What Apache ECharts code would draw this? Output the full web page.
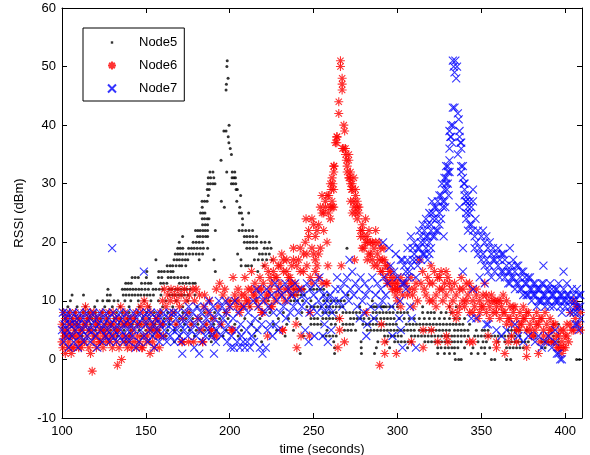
<!DOCTYPE html>
<html>
<head>
<meta charset="utf-8">
<script src="https://cdn.jsdelivr.net/npm/echarts@6/dist/echarts.min.js"></script>
<style>
  html, body { margin: 0; background: #fff; }
  #chart { width: 590px; height: 455px; }
</style>
</head>
<body>
<div id="chart"></div>
<script>
// axis ranges and ticks
var xMin = 100, xMax = 410, xStep = 50;
var yMin = -10, yMax = 60, yStep = 10;
var seriesNames = ['Node5', 'Node6', 'Node7'];

// Node5 read row by row: [rssi, time, time, ...]
var node5Rows = [
  [51, 198.5], [50, 198.3], [48, 199], [47, 198], [46, 197.8],
  [40, 199.6], [39, 196.5, 197.8], [38, 199.1], [37, 199.5], [36, 200.3], [35, 201], [34, 194.8],
  [32, 188.2, 190, 198.2, 201.5, 203],
  [31, 187.2, 188.6, 190.5, 201.4, 202.5, 203.4],
  [30, 187, 188.5, 190, 191.2, 201, 202.2, 203.6],
  [29, 186.6, 187.8, 203.8, 204.5],
  [28, 187.2, 206.5],
  [27, 183.5, 185, 186.5, 195, 204.2],
  [26, 183.6, 196.8, 206],
  [25, 182.6, 184, 185.2, 205.7, 207, 211.3],
  [24, 183.6, 185, 186.6, 187.6, 207.6],
  [23, 183.8, 185.4, 186.8, 207.7],
  [22, 179.6, 181, 182.4, 184, 185.4, 186.8, 191.4, 205.6, 207.5, 209.5, 211.5, 213.6],
  [21, 171.9, 180.8, 182.3, 184, 185.6, 186.8, 208.7, 210.2, 212, 213.8, 216],
  [20, 169.9, 178.2, 180, 181.8, 183.8, 208.7, 210.5, 212.2, 214, 216, 218.8, 221, 223.6],
  [19, 169, 170.5, 172, 175.5, 177.2, 178.8, 180.6, 182.5, 184.3, 186.8, 210.2, 212, 214, 216, 220.6, 222.5, 224.6, 269.9],
  [18, 167.5, 169, 170.5, 172, 174, 176, 178, 180, 181.8, 183.8, 204.7, 217.7, 219.5, 221.5, 223.6],
  [17, 156, 166.8, 168.5, 170, 171.8, 173.5, 175, 181.8, 190.6, 206.7, 214.7, 217, 219.5, 222, 225.2],
  [16, 162.7, 164.5, 166, 168, 170, 171.4, 173.8, 206.8, 209.5, 211, 213, 220.2],
  [15, 150.6, 157.7, 159.3, 161, 163, 164.8, 166.2, 191.4, 216.7],
  [14, 141.8, 143.6, 145.5, 150.3, 157.5, 159.5, 163.3, 165, 167, 169, 171, 173, 175],
  [13, 138, 139.6, 141.3, 147.4, 149.5, 151.5, 153, 158.8, 160.5, 162.5, 170, 172, 174, 176, 178, 179.4],
  [12, 127.4, 136, 137.5, 139, 140.6, 142.3, 144, 145.8, 147.5, 149.5, 151.5, 154.3, 156, 158, 160, 163.8, 165.5, 167.5, 169.2, 171, 172.8, 174.5, 176.3, 238.4, 240.2, 242, 244.4, 248, 250, 252, 254, 256],
  [11, 106, 112.8, 127, 128.8, 136.5, 138.2, 140, 141.8, 143.5, 145.3, 147, 149, 150.8, 152.5, 154.5, 159, 164, 165.8, 167.6, 169.4, 171.2, 173, 175, 179.3, 236.4, 238.4, 240.4, 242.4, 244.4, 256, 258.5, 270.5],
  [10, 105, 121, 124.3, 127, 128.2, 131, 133.4, 137.5, 141, 145.5, 149, 153, 157.5, 162, 168, 175, 188, 200.5, 215.7, 223, 236.4, 238.4, 240.4, 243.4, 248.4, 256, 258, 260.3, 262.3, 264.3, 266.3, 268.3, 285],
  [9, 103.5, 109, 114, 119.5, 125.5, 130, 134.5, 140, 146, 152, 160, 166, 172, 180.5, 212, 246, 248.4, 250.4, 252.4, 254.4, 257.5, 259.5, 261.5, 263.5, 265.5, 267.5, 277.5, 284.4, 286, 287.4, 290.2, 291.4, 292.2, 293.4, 295.3, 297.3, 300, 315, 331, 335],
  [8, 101, 104, 108, 112.5, 116, 120, 124, 128, 132.5, 136, 140, 145, 150.5, 155, 159, 163, 167, 172, 176, 185, 191, 197, 224, 232, 243, 247, 255.5, 257.5, 259.5, 261.5, 263.5, 267.5, 269.5, 271.5, 273.5, 275.5, 277.5, 281, 285.4, 287.4, 289.4, 291.4, 293.4, 295.4, 297.4, 300, 302, 304, 306, 315, 318, 320, 322, 326, 329, 332],
  [7, 102, 106, 110, 115, 118, 123, 127, 131, 135, 139, 143.5, 148, 152, 156, 161, 165, 170, 174, 178, 183, 189, 194, 199, 209, 218, 229, 235, 240, 248.4, 250.4, 252.4, 255.5, 257.5, 259.5, 261.5, 263.5, 265.5, 272, 274, 276, 278, 280, 283, 285.5, 287.5, 290, 292, 294, 296, 298, 301, 304, 307, 310, 313, 316, 319, 322, 325, 328, 331, 334, 337, 340],
  [6, 100.5, 104.5, 109, 113, 117, 121.5, 126, 130, 134, 138, 142, 147, 151, 155.5, 160, 164, 168, 173, 177, 181, 186, 190.5, 195, 203, 213, 226, 234, 242, 248.4, 250.4, 252.4, 254.4, 260.5, 263, 267.5, 269.5, 271.5, 273.4, 279.4, 281.4, 283.4, 285.4, 287.4, 289.4, 291.4, 293.4, 295.4, 297.4, 299.3, 305.3, 307.3, 309.3, 311.3, 313.3, 315.3, 317.3, 319.3, 321.3, 323.3, 325.3, 327.3, 329.3, 331.3, 333.2, 335, 337, 339, 343, 393, 396],
  [5, 103, 107.5, 111, 116, 120, 125, 129, 133, 137, 141, 146, 150, 154, 158, 163, 167, 171, 176, 180, 185, 192, 198, 207, 216, 228, 238, 258, 268.4, 270.4, 272.4, 275, 282, 284, 286, 288, 290, 292, 294, 296, 298, 300, 302, 304, 306, 308, 310, 313, 315, 317, 319, 321, 323, 325, 327, 329, 331, 334, 336, 338, 340, 342, 347, 350.5, 352, 354, 366, 368, 370, 373, 377],
  [4, 105, 112, 119, 126, 133, 140, 147, 154, 162, 170, 179, 188, 196, 205, 215, 233, 244, 255.5, 257.5, 259.5, 261.5, 263.5, 292.3, 294.3, 296.3, 298.3, 300.3, 302.3, 308.3, 310.3, 312.3, 314.3, 316.3, 318.3, 320.3, 322.3, 324.3, 326.3, 328.3, 330.3, 332.3, 334, 336, 338, 340, 342.2, 346, 348, 350, 352, 354, 356, 358, 360, 362, 364, 366, 368, 370, 373, 382, 393],
  [3, 110, 123, 138, 152, 167, 189, 219, 262, 278.3, 288.3, 293.4, 298.3, 300.3, 302.3, 304.3, 306.3, 308.3, 316.3, 318.3, 320.3, 322.3, 324.3, 326.3, 328.3, 330.3, 332.3, 334, 336, 338, 341, 348, 351, 353, 360, 364, 368, 370, 372, 374, 376, 378, 386, 388, 390, 392, 396],
  [2, 262.5, 278.4, 287.4, 295.3, 306, 324, 326, 328.4, 330.4, 332.4, 334, 336, 340, 345, 350, 352, 355, 365, 367, 369, 371, 373, 375, 386, 388],
  [1, 242, 262.5, 278.5, 286.3, 324, 328, 331, 334, 344, 348, 352],
  [0, 334.5, 336.5, 338, 356, 358, 365, 367.5, 406.8, 408.5]
];

// Node6: [time, rssi]
var node6 = [
  [100,6],[100.5,2],[101,8],[101.5,4],[102,1],[102,7],[103,5],[103.5,2],[104,3],[104.5,8],[105,6],[105.5,1],[106,4],[106.5,7],[107,2],[107.5,5],[108,8],[109,3],[109.5,6],[110,4],
  [111,7],[111.5,2],[112,5],[113,8],[113.5,3],[114,9],[114.5,6],[115,4],[116,2],[116.5,7],[117,1],[117.5,5],[118,-2],[118.5,3],[119,8],[120,6],[120.5,2],[121,4],[122,7],[122.5,3],
  [123,5],[124,8],[124.5,2],[125,6],[126,4],[126.5,7],[127,5],[128,8],[128.5,3],[129,6],[130,2],[130.5,8],[131,4],[132,7],[132.5,3],[133,-1],[133.5,5],[134,2],[135,9],[135.5,0],
  [136,6],[137,3],[137.5,8],[138,4],[139,2],[139.5,6],[140,3],[141,7],[141.5,2],[142,5],[143,3],[144,8],[144.5,2],[145,6],[146,3],[147,9],[147.5,2],[148,8],[148.5,4],[149,10],
  [150,7],[150.5,3],[151,9],[152,5],[152.5,1],[153,8],[154,3],[154.5,6],[155,2],[156,7],[156.5,4],[157,5],[158,2],[158.5,8],[159,6],[160,10],[160.5,4],[161,12],[162,9],[163,11],
  [164,7],[164.5,10],[165,12],[166,8],[167,11],[168,6],[168.5,10],[169,12],[170,9],[171,11],[171.5,3],[172,7],[173,12],[174,10],[175,8],[175.5,3],[176,11],[177,6],[178,12],[178.5,3],
  [100,3],[101,5],[102,4],[103,7],[104,6],[105,4],[106,2],[107,6],[108,4],[109,7],[110,2],[111,5],[112,3],[113,6],[115,7],[116,5],[117,8],[119,4],[120,7],[121,6],
  [123,3],[124,5],[125,4],[127,3],[128,6],[129,4],[131,6],[132,5],[134,7],[136,4],[137,6],[138,7],[140,6],[141,4],[143,7],[145,4],[146,6],[148,2],[149,6],[151,4],[153,6],[155,5],[157,7],[158,4],[160,6],
  [179,10],[180,12],[181,7],[182,11],[183,5],[184,3],[184.5,9],[185,11],[186,6],[187,8],[188,10],[189,5],[190,7],[191,4],[192,12],[193,9],[194,13],[195,6],[196,11],[197,12],
  [198,8],[199,10],[200,9],[201,5],[202,14],[203,11],[204,9],[205,10],[206,8],[207,11],[208,9],[209,14],[210,10],[211,12],[212,9],[213,15],[214,11],[215,13],[216,10],[217,12],
  [218,14],[219,8],[220,13],[221,16],[222,11],[222.5,4],[223,15],[224,12],[225,9],[226,17],[227,14],[228,11],[229,16],[230,13],[231,18],[231.5,5],[232,15],[233,12],[234,17],[235,14],
  [236,11],[237,16],[238,19],[239,13],[239.5,6],[240,2],[241,17],[242,15],[242.5,4],[243,12],[244,18],[245,20],[246,16],[247,22],[247.5,4],[248,8],[248,14],[249,24],[250,18],[251,21],
  [252,16],[253,23],[254,19],[255,25],[255,13],[256,22],[257,27],[258,13],[258,20],[259,28],[260,24],[260,30],[261,26],[262,29],[262,33],[263,37],[264,38],[265,42],[265,44],[266,51],
  [266,50],[267,48],[267,47],[267,46],[268,40],[268.5,39],[269,36],[269.5,34],[270,33],[271,35],[271.5,31],[272,32],[272.5,29],[273,30],[274,27],[275,28],[276,26],[276,24],[277,25],[278,22],
  [279,23],[279,19],[280,21],[281,24],[282,20],[282,17],[283,22],[284,18],[285,20],[286,16],[287,22],[288,18],[289,20],[290,15],[291,17],[292,19],[293,14],[294,16],[295,13],[296,15],
  [297,12],[298,14],[299,11],[300,13],[301,12],[302,14],[303,11],[305,13],[307,12],[309,11],[311,13],[313,17],[315,15],[316,12],[318,14],[319,10],[320,16],[321,13],[322,15],[323,11],
  [324,14],[325,12],[326,15],[327,10],[328,13],[329,11],[330,14],[331,9],[332,12],[333,10],[334,13],[335,11],[336,8],[337,12],[338,14],[339,10],[340,9],[341,13],[342,11],[343,8],
  [344,12],[345,10],[346,9],[347,11],[348,7],[349,10],[350,9],[351,11],[352,13],[353,8],[354,10],[355,9],[356,11],[357,8],[358,10],[359,9],[360,10],[361,7],[362,9],[363,11],
  [364,8],[365,10],[366,7],[367,9],[368,6],[369,8],[370,9],[371,7],[372,5],[373,8],[374,6],[375,9],[376,7],[377,5],[378,8],[379,6],[380,4],[381,7],[382,5],[383,8],
  [384,6],[385,3],[386,7],[387,5],[388,8],[389,6],[390,4],[391,7],[392,5],[393,3],[394,6],[395,2],[396,4],[397,5],[398,3],[399,2],[400,4],[401,6],[402,3],[403,8],
  [404,5],[405,10],[406,7],[407,9],[408,6],[409,8],
  [300,10],[302,9],[304,13],[306,11],[308,14],[310,12],[312,10],[314,13],[317,11],[319,13],[321,10],[323,9],[325,14],[327,12],[329,15],[331,13],[333,8],[335,7],[337,9],[339,12],
  [341,10],[343,13],[345,8],[347,12],[349,8],[351,9],[353,11],[355,7],[357,10],[359,8],[361,10],[363,8],[365,6],[367,7],[369,9],[371,5],[373,6],[375,7],[377,8],[379,5],
  [381,4],[383,6],[385,7],[387,4],[389,3],[391,5],[393,6],[395,4],[397,2],[399,5],[401,4],[403,6],[405,5],[407,9],[409,5],
  [257.5,13],[258.5,16],[266.5,16],[265.5,7],[265.5,5],[268.4,3],[264.5,2],[274.4,17],[281.4,8],[290.4,6],[292.4,3],[292.4,1],[299.3,1],[289.4,-1],[308.3,3],[309.3,9],[315.3,5],[315.3,2],[320.2,5],[329.2,4],
  [324,3],[330,3],[343,3],[345,3],[354,4],[359,3],[359,2],[364,1],[371,3],[377,2],[377,0.5],[384,1],[392,3],[400,2],[396,2],[398,1],[366,3],[368,4],
  [224.6,9],[219.6,8],[231.6,5],[201.7,5],[183.8,3],[171.7,3],[189,5],[192,4],
  [262.2,33],[262,32],[261,31],[260.5,29],[261.5,30],[271,31],[272,30],[273,29],[274,31],[275,29],[254,26],[255,28],[256,25],[257,26],[258,28],[259,25],[260,26],[261,27],[262,26],[272,27],
  [273,25],[274,26],[275,25],[276,27],[277,26],[263.8,38],[263.8,37],[268,36],[269,35],[270,32],[271,34],[267.2,36],
  [245.5,24],[247,21],[249,19],[250,23],[251,17],[252,22],[253,18],[246,18],[244,15],[242,19],[240,16],[238,17],[236,14],[234,15],[232,17],[230,16],[228,14],[226,15],[224,14],[249,13],
  [251,15],[253,14],[238,12],[236,13],
  [278,21],[279,22],[280,19],[281,20],[282,21],[283,18],[284,20],[285,17],[286,19],[287,20],[288,16],[289,17],[290,19],[291,15],[292,17],[293,16],[294,13],[295,15],[296,14],[297,13],
  [298,12],[299,13],[300,12],
  [203,10],[205,12],[207,9],[209,11],[211,10],[213,12],[215,11],[217,9],[219,12],[221,10],[223,11],[225,13],[227,10],[229,12],[231,11],[233,10],[235,12],[237,13],[239,11],[241,12]
];

// Node7: [time, rssi]
var node7 = [
  [100,5],[100.5,8],[101,3],[101.5,6],[102,7],[102.5,4],[103,8],[103.5,5],[104,2],[104.5,6],[105,7],[106,4],[106.5,8],[107,3],[107.5,6],[108,5],[109,7],[109.5,2],[110,6],[110.5,8],
  [111,4],[112,5],[112.5,7],[113,3],[114,6],[114.5,8],[115,4],[116,5],[116.5,7],[117,3],[118,6],[118.5,8],[119,5],[120,4],[120.5,7],[121,2],[122,6],[122.5,8],[123,5],[124,3],
  [124.5,7],[125,6],[126,4],[126.5,8],[127,5],[128,7],[128.5,3],[129,6],[129.9,19],[130,4],[130.5,8],[131,5],[132,7],[132.5,3],[133,6],[134,4],[134.5,8],[135,5],[136,7],[136.5,3],
  [137,6],[138,4],[138.5,8],[139,5],[140,3],[140.5,7],[141,6],[142,4],[142.5,8],[143,5],[144,2],[144.5,7],[145,6],[146,3],[146.5,8],[147,5],[148,7],[148.8,15],[149,4],[150,6],
  [150.5,8],[151,3],[152,7],[152.5,5],[153,8],[154,4],[154.5,6],[155,2],[156,7],[156.5,5],[157,8],[158,3],[158.5,6],[159,7],[160,4],[160.5,8],[161,5],[162,6],[162.5,3],[163,7],
  [164,8],[164.5,4],[165,6],[166,5],[166.5,8],[167,3],[168,7],[168.5,5],[169,8],[170,4],[170.5,6],[171,3],[171.7,1],[172,7],[173,5],[173.5,8],[174,6],[175,4],[175.5,9],[176,7],
  [177,5],[178,8],[178.8,2],[179,6],[180,4],[180.5,9],[181,7],[181.8,1],[182,5],[183,8],[183.7,3],[184,6],[185,9],[185.5,4],[186,7],[187,5],[187.5,10],[188,8],[189,6],[189.5,4],
  [190,9],[190.6,1],[191,7],[191.7,3],[192,5],[193,8],[193.5,10],[194,6],[195,4],[195.5,9],[196,7],[197,5],[197.5,10],[198,8],[198.5,3],[199,6],[200,9],[200.6,2],[201,4],[202,7],
  [202.5,2],[203,10],[204,5],[204.5,3],[205,8],[206,2],[206.5,6],[207,4],[208,3],[208.5,9],[209,2],[210,5],[210.5,3],[211,8],[212,2],[212.5,6],[213,4],[214,10],[214.5,3],[215,7],
  [216,12],[216.5,5],[217,9],[218,2],[218.5,11],[219,6],[219.5,1],[220,10],[221,8],[221.5,2],[222,12],[222.5,5],[223,9],[224,6],[225,11],[225.5,4],[226,8],[227,13],[227.5,6],[228,10],
  [229,5],[229.5,12],[230,8],[231,11],[232,9],[233,13],[233.5,7],[234,10],[235,12],[236,8],[237,11],[238,9],[239,13],[240,10],[241,8],[242,12],[243,9],[244,11],[245,5],[245.5,10],
  [246,13],[247,3],[247.5,8],[248,12],[249,9],[250,11],[250.5,4],[251,13],[252,8],[253,10],[253.5,14],[254,12],[255,9],[255.5,4],[256,11],[256.5,6],[257,8],[258,10],[258.5,3],[259,9],
  [260,11],[260.5,5],[261,8],[262,10],[263,12],[264,14],[265,10],[266,12],[267,9],[268,13],[269,11],[270,14],[271,10],[271.4,17],[272,12],[273,15],[274,11],[275,13],[276,9],[277,12],
  [277.5,7],[278,14],[279,10],[280,8],[280.5,13],[281,11],[281.4,4],[282,6],[283,12],[284,9],[285,14],[286,7],[287,11],[288,13],[289,9],[290,12],[291,10],[291.4,20],[292,14],[293,11],
  [294,13],[295,19],[296,16],[296.5,9],[297,4],[298,15],[299,18],[300,14],[301,7],[301.5,10],[302,17],[302,5],[303,2],[303,13],[304,16],[305,12],[306,19],[307,15],[307.5,9],[308,21],
  [308.5,7],[309,17],[310,20],[311,2],[311,14],[312,19],[313,22],[314,17],[315,23],[316,20],[317,24],[318,21],[319,18],[320,23],[320.5,27],[321,25],[322,21],[323,26],[324,22],[325,28],
  [326,24],[326.5,30],[327,27],[327.5,21],[328,31],[328.5,26],[329,33],[329.5,29],[330,32],[330.5,28],[331,36],[331.5,38],[332,40],[332.5,37],[333,43],[333,51],[333.5,50],[334,49],[334.5,51],[335,48],
  [335.5,50],[336,42],[336.5,41],[336,35],[337,39],[337,26],[337.5,37],[338,36],[338,32],[339,31],[339,19],[339,15],[339.5,30],[340,28],[340.5,27],[341,25],[342,26],[343,25],[344,23],[344,7],
  [345,29],[345,22],[345,12],[346,21],[346.5,24],[347,20],[347,7],[348,22],[349,19],[349,14],[350,21],[351,18],[352,20],[352,13],[353,17],[353,6],[354,19],[354,6],[355,16],[356,18],
  [357,17],[358,15],[359,18],[359,5],[360,16],[361,17],[362,15],[362,4],[363,18],[364,14],[365,16],[365,5],[366,15],[367,19],[367,13],[368,16],[369,14],[370,15],[370,6],[371,13],
  [372,16],[372,4],[373,14],[374,12],[375,15],[375,3],[376,13],[377,11],[378,14],[378,4],[379,12],[380,10],[381,13],[382,11],[382,3],[383,9],[384,12],[384,4],[385,10],[386,13],
  [386,2],[387,16],[387,11],[388,9],[388,3],[389,12],[390,10],[390,4],[391,13],[392,11],[392,2],[393,9],[394,12],[394,5],[395,10],[395,1],[396,13],[397,11],[397,0],[398,8],
  [399,15],[399,12],[400,10],[401,13],[402,11],[403,9],[404,12],[405,8],[406,10],[406,6],[407,12],[408,9],[409,7],[409,11],
  [318,23],[319,25],[320,22],[321,24],[322,26],[323,24],[324,27],[325,25],[326,28],[327,26],[328,29],[328,27],[329,30],[329,31],[330,30],[330,33],[331,32],[331,34],[321,21],[323,22],
  [325,23],[314,21],[316,22],[317,21],[340,29],[341,27],[342,28],[343,27],[344,26],[345,27],[341,24],[343,23],[342,22],[337,38],[332,38],[331,39],[333,40],[334,43],[338,37],[338,33],
  [339,33],[340,30],
  [346,19],[348,18],[350,17],[351,22],[352,16],[353,21],[354,15],[355,20],[356,14],[357,19],[358,17],[360,19],[361,14],[362,18],[363,15],[364,17],[366,13],[367,15],[368,14],[369,17],
  [370,12],[371,16],[372,13],[373,12],[374,15],[375,11],[376,14],[377,13],[378,11],[379,14],[380,12],[381,11],[382,13],[383,12],[384,10],[385,12],[386,10],[387,13],[388,11],[389,10],
  [390,12],[391,9],[392,12],[393,11],[394,10],[395,12],[396,10],[397,9],[398,11],[399,10],[400,9],[401,11],[402,10],[403,8],[404,10],[405,11],[406,9],[407,8],[408,11],[409,9],
  [407,6],[408,5],[394,3],[396,1],[398,0],
  [303,17],[305,15],[306,17],[308,16],[309,19],[310,18],[311,17],[312,16],[313,19],[314,20],[315,18],[316,18],[317,19],[318,17],[319,20],[320,19],[304,13],[306,14]
];

var node5 = [];
node5Rows.forEach(function (row) {
  for (var i = 1; i < row.length; i++) {
    node5.push([row[i], row[0]]);
  }
});

var starPath = 'path://M5,0L5,10M0,5L10,5M1.5,1.5L8.5,8.5M8.5,1.5L1.5,8.5';
var crossPath = 'path://M0,0L10,10M10,0L0,10';
var dotPath = 'path://M0,0M10,10M3.5,3.5L6.5,3.5L6.5,6.5L3.5,6.5Z';
var font = 'Liberation Sans, Arial, Helvetica, sans-serif';

var chart = echarts.init(document.getElementById('chart'));

function axisBase(extra) {
  var a = {
    type: 'value',
    axisLine: { show: true, onZero: false, lineStyle: { color: '#000', width: 1 } },
    axisTick: { show: true, inside: true, length: 5, lineStyle: { color: '#000' } },
    splitLine: { show: false },
    axisLabel: { color: '#000', fontSize: 13, fontFamily: font }
  };
  for (var k in extra) a[k] = extra[k];
  return a;
}

var option = {
  animation: false,
  backgroundColor: '#fff',
  grid: { left: 62, right: 8, top: 8, bottom: 37, outerBoundsMode: 'none' },
  legend: {
    orient: 'vertical',
    left: 83,
    top: 28,
    padding: [8, 7, 6, 24],
    itemGap: 10,
    itemWidth: 44,
    itemHeight: 8,
    borderColor: '#000',
    borderWidth: 1,
    backgroundColor: '#fff',
    textStyle: { color: '#000', fontSize: 13, fontFamily: font },
    data: [
      { name: 'Node5', icon: dotPath },
      { name: 'Node6', icon: starPath },
      { name: 'Node7', icon: crossPath }
    ]
  },
  xAxis: [
    axisBase({
      min: xMin, max: xMax, interval: xStep, position: 'bottom',
      name: 'time (seconds)', nameLocation: 'middle', nameGap: 13,
      nameTextStyle: { color: '#000', fontSize: 13, fontFamily: font },
      axisLabel: { color: '#000', fontSize: 13, fontFamily: font, margin: 7, showMaxLabel: false }
    }),
    axisBase({ min: xMin, max: xMax, interval: xStep, position: 'top', axisLabel: { show: false } })
  ],
  yAxis: [
    axisBase({
      min: yMin, max: yMax, interval: yStep, position: 'left',
      name: 'RSSI (dBm)', nameLocation: 'middle', nameGap: 36,
      nameTextStyle: { color: '#000', fontSize: 13, fontFamily: font },
      axisLabel: { color: '#000', fontSize: 13, fontFamily: font, margin: 6 }
    }),
    axisBase({ min: yMin, max: yMax, interval: yStep, position: 'right', axisLabel: { show: false } })
  ],
  series: [
    {
      name: seriesNames[0], type: 'scatter', data: node5,
      symbol: 'circle', symbolSize: 3,
      itemStyle: { color: '#000' },
      emphasis: { disabled: true }
    },
    {
      name: seriesNames[1], type: 'scatter', data: node6,
      symbol: starPath, symbolSize: 9,
      itemStyle: { color: 'transparent', borderColor: '#ff0000', borderWidth: 1.1 },
      emphasis: { disabled: true }
    },
    {
      name: seriesNames[2], type: 'scatter', data: node7,
      symbol: crossPath, symbolSize: 8,
      itemStyle: { color: 'transparent', borderColor: '#0000ff', borderWidth: 1.1 },
      emphasis: { disabled: true }
    }
  ]
};

chart.setOption(option);
</script>
</body>
</html>
